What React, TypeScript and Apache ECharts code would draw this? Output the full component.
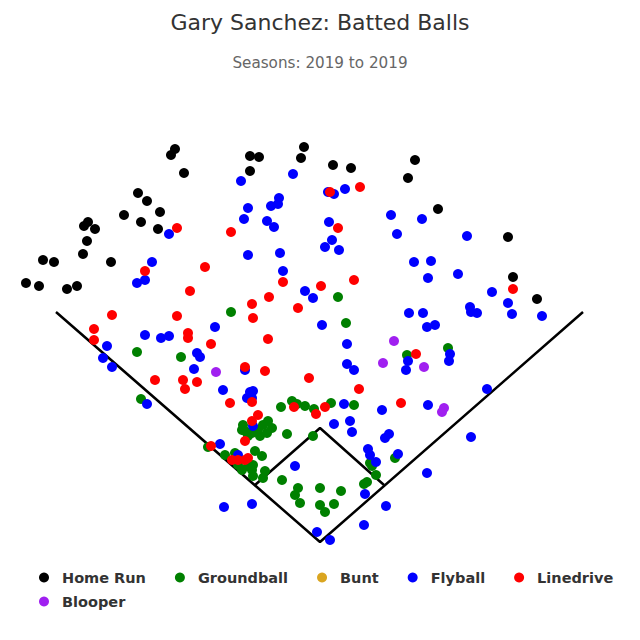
import React, { useEffect, useRef } from "react";
import * as echarts from "echarts";

const titleText = "Gary Sanchez: Batted Balls";
const subtitleText = "Seasons: 2019 to 2019";

const categories = ["Home Run", "Groundball", "Bunt", "Flyball", "Linedrive", "Blooper"];
const colors = ["#000000", "#008000", "#DAA520", "#0000FF", "#FF0000", "#A020F0"];

// field outline (x: horizontal offset from home plate, y: depth)
const foulLines = [[-264, 230], [0, 0], [263, 230]];
const infield = [[-65, 57], [0, 114], [64, 57]];

const homeRun = [
  [-145, 393], [-149, 387], [-136, 369], [-182, 349], [-173, 341], [-160, 330], [-196, 327],
  [-179, 320], [-162, 313], [-232, 320], [-236, 316], [-225, 313], [-233, 301], [-237, 288],
  [-277, 282], [-266, 280], [-209, 280], [-294, 259], [-281, 256], [-253, 253], [-243, 256],
  [-70, 386], [-61, 385], [-16, 395], [-19, 384], [-70, 371], [13, 377], [31, 374],
  [95, 382], [88, 364], [118, 333], [188, 305], [193, 265], [217, 243],
];

const groundball = [
  [-183, 190], [-139, 185], [-179, 143], [18, 245], [-89, 230], [26, 219], [87, 187], [128, 194],
  [-28, 141], [-23, 138], [-39, 135], [-15, 136], [-6, 133], [11, 139], [34, 137],
  [-33, 108], [-7, 106],
  [-77, 117], [-75, 111], [-68, 109], [-62, 112], [-57, 117], [-52, 121], [-48, 114], [-53, 109],
  [-60, 106], [-72, 106], [-78, 112], [-112, 95],
  [-95, 87], [-85, 89], [-82, 77], [-72, 76], [-67, 77], [-65, 91], [-68, 72], [-67, 66],
  [-58, 86], [-55, 71], [-57, 64], [-78, 72],
  [-38, 62], [-22, 54], [-25, 47], [-20, 39], [0, 54], [0, 37], [5, 30], [21, 51], [14, 38],
  [50, 79], [52, 76], [56, 67], [47, 60], [44, 58], [75, 84],
];

const bunt: number[][] = [];

const flyball = [
  [-151, 308], [-168, 280], [-183, 259], [-175, 262], [-175, 207], [-159, 204], [-151, 206],
  [-105, 215], [-213, 196], [-123, 189], [-120, 185], [-217, 184], [-208, 175], [-126, 173],
  [-173, 138], [-79, 361], [-27, 368], [8, 350], [14, 348], [25, 353], [-41, 344], [-42, 338],
  [-49, 336], [-72, 334], [-76, 323], [-53, 321], [-46, 315], [9, 320], [12, 302], [5, 295],
  [19, 292], [71, 327], [77, 308], [-72, 287], [-40, 289], [-37, 271], [102, 323], [147, 306],
  [94, 280], [111, 281], [138, 268], [108, 264], [172, 250], [188, 239], [192, 228], [222, 226],
  [150, 235], [151, 230], [157, 229], [89, 229], [103, 229], [107, 215], [115, 217], [130, 188],
  [129, 181], [88, 181], [86, 172], [167, 153], [108, 137], [-15, 251], [-7, 244], [2, 217],
  [27, 198], [27, 178], [34, 172], [-75, 172], [-97, 152], [-70, 150], [-67, 151], [-73, 144],
  [-68, 144], [24, 138], [62, 132], [14, 118], [30, 121], [32, 110], [65, 104], [69, 108],
  [-67, 116], [-100, 98], [-82, 87], [48, 93], [50, 87], [56, 80], [78, 88], [-25, 76],
  [45, 48], [66, 36], [44, 17], [-3, 10], [10, 2], [-96, 35], [-68, 38], [151, 105], [107, 69],
];

const linedrive = [
  [-143, 314], [-175, 271], [-115, 275], [-130, 251], [-208, 227], [-143, 226], [-226, 213],
  [-226, 202], [-132, 209], [-132, 204], [-109, 198], [-165, 162], [-137, 162], [-135, 153],
  [-123, 160], [10, 350], [40, 355], [18, 314], [-89, 310], [-37, 260], [1, 256], [34, 262],
  [-51, 245], [-68, 238], [-22, 234], [-67, 224], [-52, 203], [-75, 175], [-55, 171], [-11, 164],
  [39, 153], [81, 139], [193, 253], [96, 188], [-90, 139], [-68, 140], [-26, 135], [5, 135],
  [-4, 128], [-62, 127], [-68, 121], [-75, 101], [-109, 96], [-88, 82], [-82, 82], [-75, 82],
  [-72, 84],
];

const blooper = [[-104, 170], [74, 201], [63, 179], [104, 175], [124, 134], [122, 130]];

const seriesData = [homeRun, groundball, bunt, flyball, linedrive, blooper];

const FONT = "DejaVu Sans";

export default function App() {
  const ref = useRef<HTMLDivElement>(null);
  useEffect(() => {
    if (!ref.current) return;
    const chart = echarts.init(ref.current, null, { renderer: "svg" });
    const legendCommon = {
      orient: "horizontal" as const,
      left: 39,
      padding: 0,
      itemWidth: 26,
      itemHeight: 10,
      itemGap: 29,
      icon: "circle",
      textStyle: { fontFamily: FONT, fontSize: 14.5, fontWeight: "bold" as const, color: "#333333" },
      selectedMode: false,
    };
    chart.setOption({
      animation: false,
      backgroundColor: "#ffffff",
      title: [
        {
          text: titleText,
          left: "center",
          top: 6,
          textStyle: { fontFamily: FONT, fontSize: 22, fontWeight: "normal", color: "#333333" },
        },
        {
          text: subtitleText,
          left: "center",
          top: 50,
          textStyle: { fontFamily: FONT, fontSize: 15.2, fontWeight: "normal", color: "#666666" },
        },
      ],
      legend: [
        { ...legendCommon, top: 570, data: categories.slice(0, 5) },
        { ...legendCommon, top: 594, data: categories.slice(5) },
      ],
      grid: { left: 0, right: 0, top: 0, bottom: 0 },
      xAxis: { type: "value", min: -320, max: 320, show: false },
      yAxis: { type: "value", min: -98, max: 542, show: false },
      series: [
        {
          type: "line",
          name: "foul",
          data: foulLines,
          symbol: "none",
          silent: true,
          lineStyle: { color: "#000", width: 2.5 },
          z: 1,
        },
        {
          type: "line",
          name: "infield",
          data: infield,
          symbol: "none",
          silent: true,
          lineStyle: { color: "#000", width: 2.5 },
          z: 1,
        },
        ...categories.map((name, i) => ({
          type: "scatter",
          name,
          data: seriesData[i],
          symbol: "circle",
          symbolSize: 10,
          itemStyle: { color: colors[i], opacity: 1 },
          z: 2,
        })),
      ],
    });
    return () => chart.dispose();
  }, []);
  return (
    <div
      ref={ref}
      style={{ position: "fixed", left: 0, top: 0, width: 640, height: 640 }}
    />
  );
}
